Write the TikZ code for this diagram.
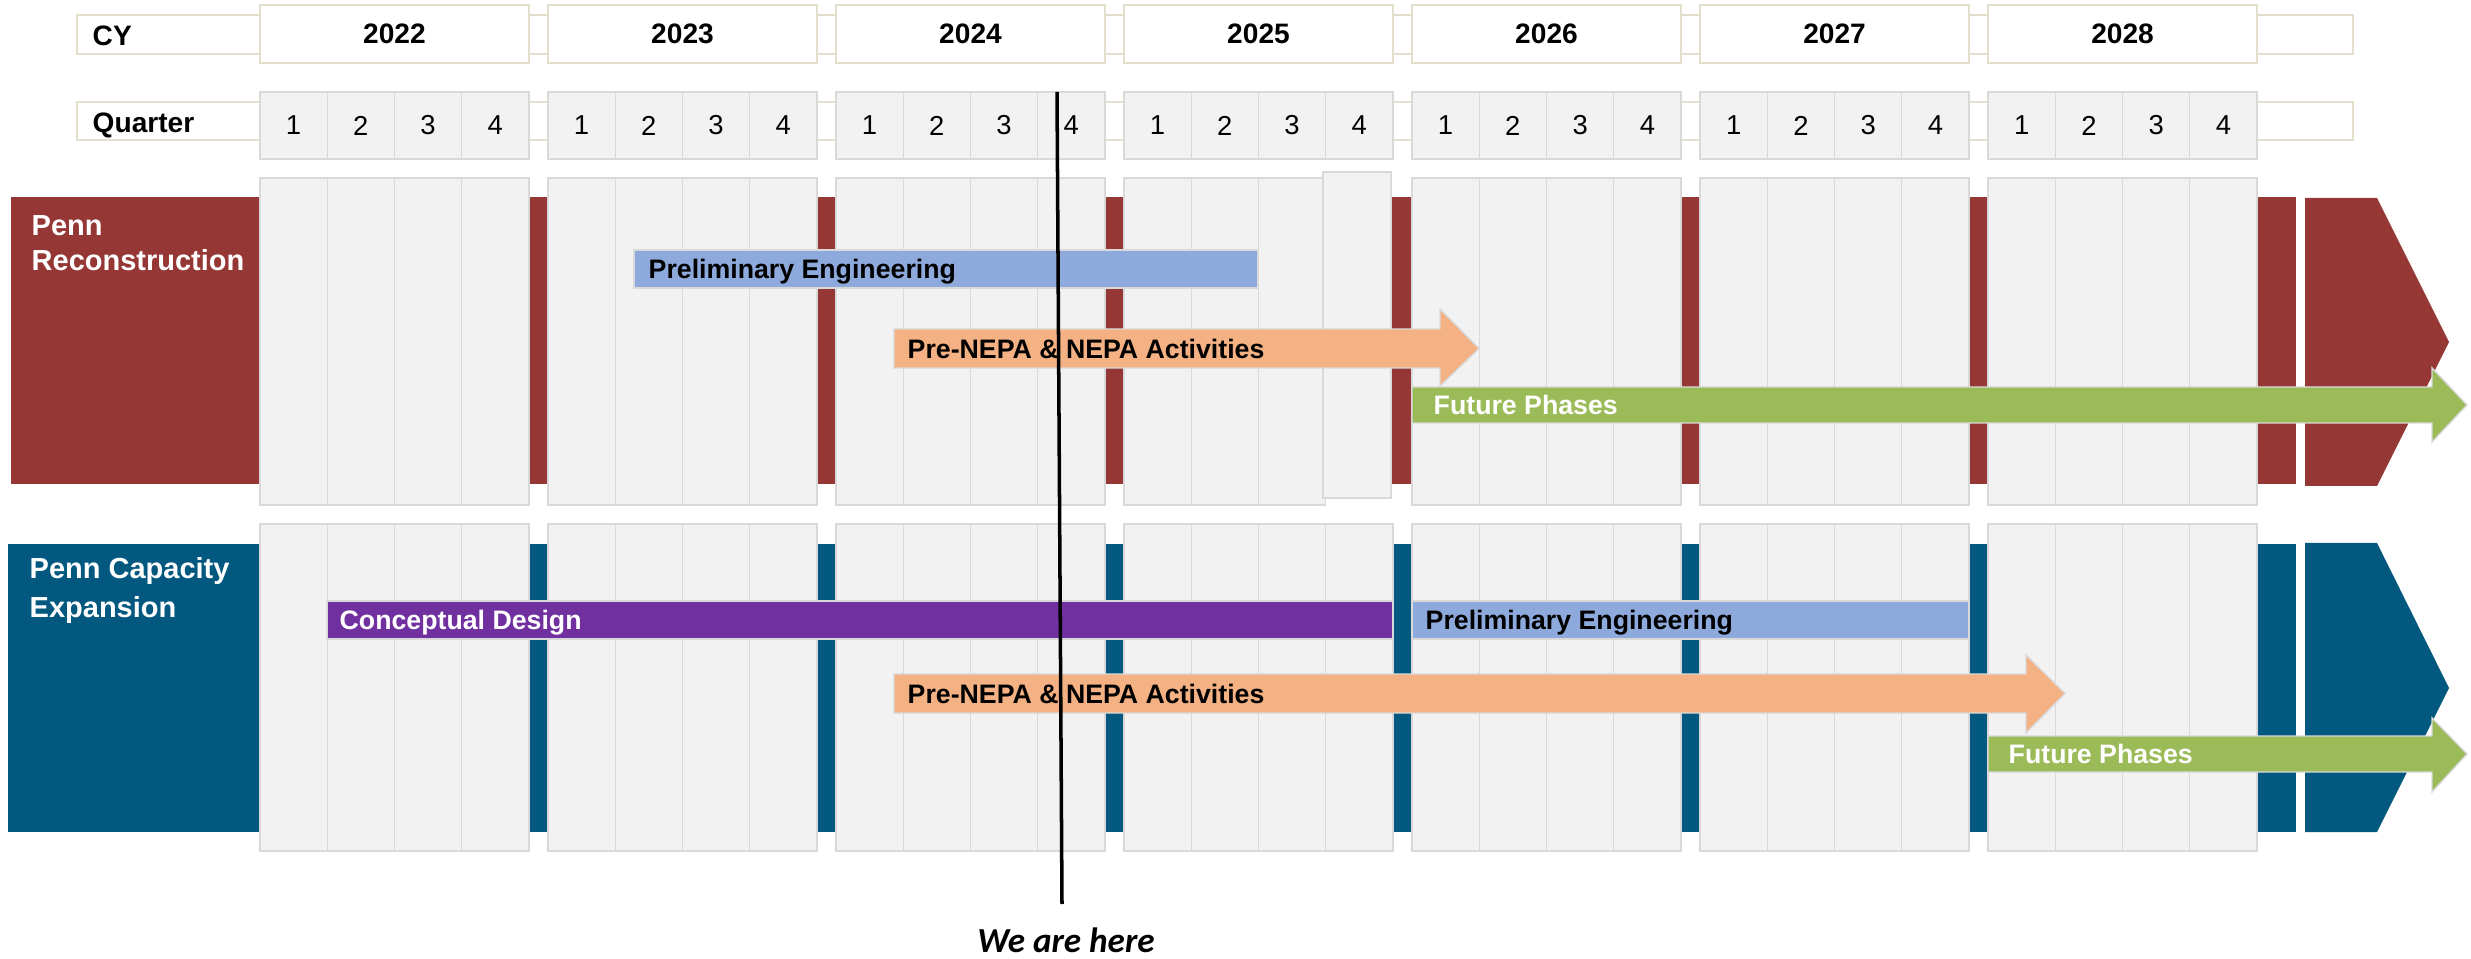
\documentclass[tikz,border=0pt]{standalone}
\usepackage{fontspec}
\setmainfont{Liberation Sans}
\newfontfamily\calibri{Carlito}
\usetikzlibrary{calc}

\definecolor{pennred}{HTML}{953735}
\definecolor{pennblue}{HTML}{03587F}
\definecolor{cellgrey}{HTML}{F2F2F2}
\definecolor{cellline}{HTML}{D9D9D9}
\definecolor{tan}{HTML}{E3DFCC}
\definecolor{prelim}{HTML}{8EA9DB}
\definecolor{nepa}{HTML}{F4B183}
\definecolor{future}{HTML}{9BBB59}
\definecolor{concept}{HTML}{7030A0}

\tikzset{
  frame/.style={fill=white, draw=tan, line width=0.6pt},
  cell/.style={fill=cellgrey, draw=cellline, line width=0.4pt},
  yearbox/.style={frame, minimum width=2.69cm, minimum height=0.58cm, inner sep=0pt,
    font=\bfseries\fontsize{8}{9}\selectfont},
  qcell/.style={cell, minimum width=0.6725cm, minimum height=0.67cm, inner sep=0pt,
    font=\fontsize{7.8}{9}\selectfont},
  rowhead/.style={anchor=base west, inner sep=0pt, font=\bfseries\fontsize{8}{9}\selectfont},
  rowtitle/.style={anchor=north west, align=left, inner sep=0pt, text=white,
    font=\bfseries\fontsize{8.25}{10}\selectfont},
  bar/.style={draw=cellline, line width=0.4pt},
  barlabel/.style={anchor=base west, inner sep=0pt, font=\bfseries\fontsize{7.6}{9}\selectfont},
}

\begin{document}
\begin{tikzpicture}
\useasboundingbox (0,0) rectangle (24.71,-9.59);

% calendar header
\draw[frame] (0.77,-0.15) rectangle (23.53,-0.54);
\node[rowhead] (cy) at (0.92,-0.46) {CY};
\draw[frame] (0.77,-1.02) rectangle (23.53,-1.40);
\node[rowhead] (quarter) at (0.92,-1.33) {Quarter};

% project bands
\fill[pennred] (0.11,-1.97) rectangle (22.96,-4.84);
\fill[pennred] (23.05,-1.98) -- (23.77,-1.98) -- (24.49,-3.42) -- (23.77,-4.86) -- (23.05,-4.86) -- cycle;
\fill[pennblue] (0.08,-5.44) rectangle (22.96,-8.32);
\fill[pennblue] (23.05,-5.43) -- (23.77,-5.43) -- (24.49,-6.88) -- (23.77,-8.32) -- (23.05,-8.32) -- cycle;

% years, quarters and columns
\foreach \yr [count=\i from 0] in {2022,...,2028} {
  \pgfmathsetmacro{\xo}{2.60+2.88*\i}
  \node[yearbox] (y\yr) at ({\xo+1.345},-0.34) {\yr};
  \foreach \q in {1,...,4} {
    \pgfmathsetmacro{\xq}{\xo+0.6725*(\q-1)}
    \node[qcell] (q\yr-\q) at ({\xq+0.336},-1.255) {\q};
    \ifnum\yr\q=20254 \else
      \draw[cell] (\xq,-1.78) rectangle ++(0.6725,-3.27);
    \fi
    \draw[cell] (\xq,-5.24) rectangle ++(0.6725,-3.27);
  }
}
\draw[cell] (13.23,-1.72) rectangle (13.91,-4.98);

% row titles
\node[rowtitle] (recon) at (0.31,-2.15) {Penn\\Reconstruction};
\node[rowtitle] (capex) at (0.29,-5.57) {Penn Capacity\\[1pt]Expansion};

% Penn Reconstruction
\draw[bar, fill=prelim] (6.34,-2.50) rectangle (12.58,-2.88);
\node[barlabel] (pe1) at (6.48,-2.787) {Preliminary Engineering};
\filldraw[bar, fill=nepa] (8.94,-3.29) -- (14.40,-3.29) -- (14.40,-3.09) -- (14.79,-3.485)
  -- (14.40,-3.86) -- (14.40,-3.68) -- (8.94,-3.68) -- cycle;
\node[barlabel] (nepa1) at (9.07,-3.582) {Pre-NEPA \& NEPA Activities};
\filldraw[bar, fill=future] (14.12,-3.87) -- (24.32,-3.87) -- (24.32,-3.68) -- (24.67,-4.05)
  -- (24.32,-4.42) -- (24.32,-4.23) -- (14.12,-4.23) -- cycle;
\node[barlabel, text=white] (fut1) at (14.33,-4.147) {Future Phases};

% Penn Capacity Expansion
\draw[bar, fill=concept] (3.27,-6.01) rectangle (13.93,-6.39);
\node[barlabel, text=white] (cd2) at (3.39,-6.297) {Conceptual Design};
\draw[bar, fill=prelim] (14.12,-6.01) rectangle (19.69,-6.39);
\node[barlabel] (pe2) at (14.25,-6.297) {Preliminary Engineering};
\filldraw[bar, fill=nepa] (8.94,-6.74) -- (20.26,-6.74) -- (20.26,-6.55) -- (20.65,-6.935)
  -- (20.26,-7.33) -- (20.26,-7.13) -- (8.94,-7.13) -- cycle;
\node[barlabel] (nepa2) at (9.07,-7.032) {Pre-NEPA \& NEPA Activities};
\filldraw[bar, fill=future] (19.88,-7.36) -- (24.32,-7.36) -- (24.32,-7.18) -- (24.67,-7.54)
  -- (24.32,-7.92) -- (24.32,-7.72) -- (19.88,-7.72) -- cycle;
\node[barlabel, text=white] (fut2) at (20.08,-7.637) {Future Phases};

% today marker
\coordinate (nowtop) at (10.57,-0.92);
\coordinate (nowbot) at (10.62,-9.04);
\draw[line width=1pt] (nowtop) -- (nowbot);
\node[anchor=base, inner sep=0pt, font=\calibri\bfseries\itshape\fontsize{10}{12}\selectfont]
  (here) at (10.66,-9.52) {We are here};
\end{tikzpicture}
\end{document}
